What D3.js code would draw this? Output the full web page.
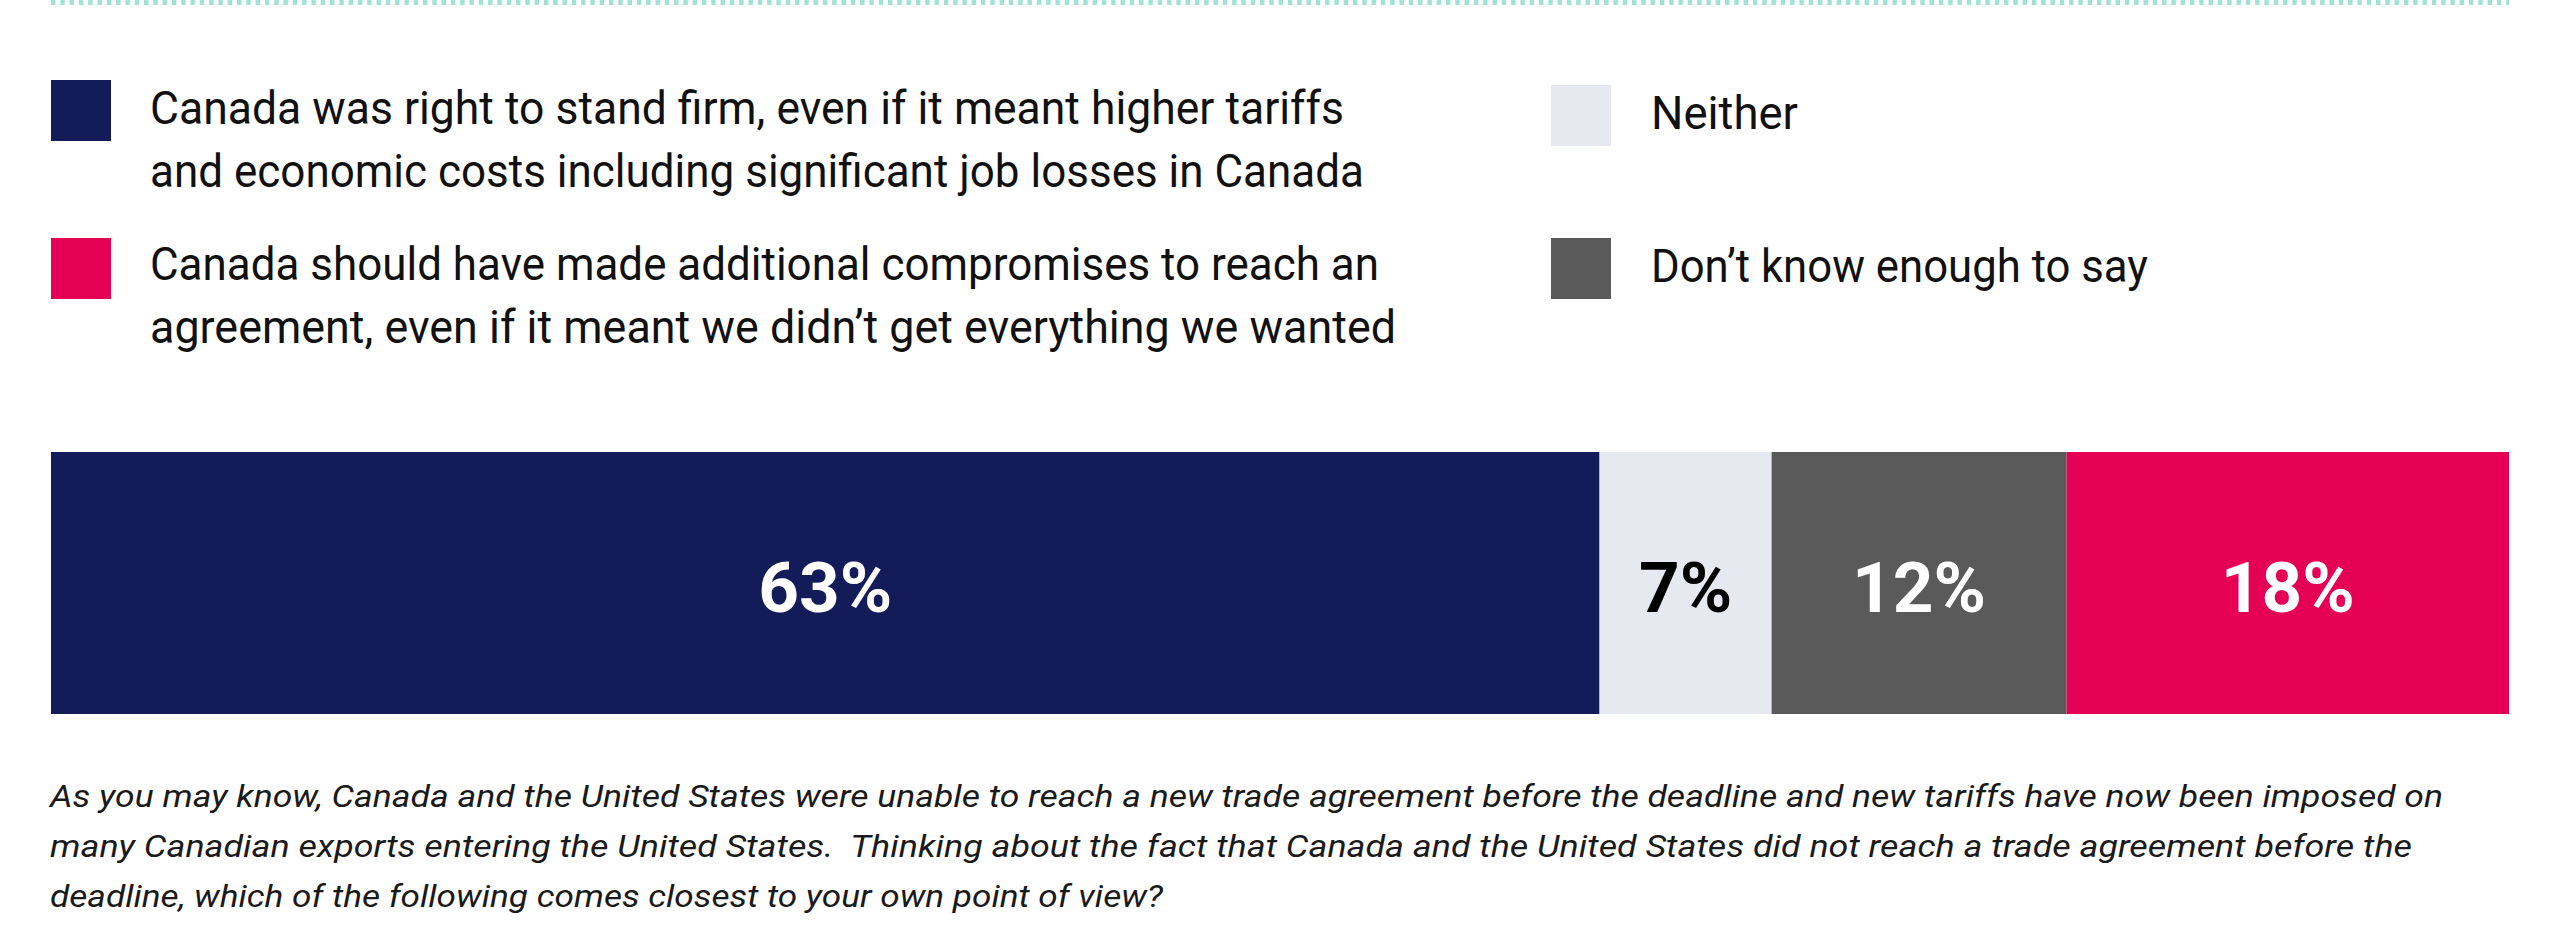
<!DOCTYPE html>
<html>
<head>
<meta charset="utf-8">
<script src="https://cdn.jsdelivr.net/npm/d3@7"></script>
<style>
  html, body { margin: 0; padding: 0; background: #fff; }
  svg { display: block; }
  text { white-space: pre; }
</style>
</head>
<body>
<svg id="chart"></svg>
<script>
// ---- data ----
const categories = ["firm", "neither", "dontknow", "compromise"];
const values = [63, 7, 12, 18];
const valueLabels = ["63%", "7%", "12%", "18%"];
const colors = ["#131b58", "#e6e9ef", "#5a5a5a", "#e50056"];
const labelColors = ["#ffffff", "#000000", "#ffffff", "#ffffff"];

const legendLines = [
    ["Canada was right to stand firm, even if it meant higher tariffs",
     "and economic costs including significant job losses in Canada"],
    ["Neither"],
    ["Don\u2019t know enough to say"],
    ["Canada should have made additional compromises to reach an",
     "agreement, even if it meant we didn\u2019t get everything we wanted"]
];

const questionLines = [
    "As you may know, Canada and the United States were unable to reach a new trade agreement before the deadline and new tariffs have now been imposed on",
    "many Canadian exports entering the United States.  Thinking about the fact that Canada and the United States did not reach a trade agreement before the",
    "deadline, which of the following comes closest to your own point of view?"
];

// ---- layout ----
const W = 2560, H = 939;
const left = 51, right = 2509;
const font = "Roboto, 'Open Sans', sans-serif";

const svg = d3.select("svg#chart")
    .attr("width", W)
    .attr("height", H)
    .attr("viewBox", `0 0 ${W} ${H}`);

// dotted teal rule at the very top
svg.append("line")
    .attr("x1", left).attr("x2", right)
    .attr("y1", 0).attr("y2", 0)
    .attr("stroke", "#9fe3d8")
    .attr("stroke-width", 10)
    .attr("stroke-dasharray", "4.4 4.9");

// legend: squares + wrapped labels (positions)
const legendPos = {
    firm:       { sx: 51,   sy: 80,  tx: 150,  base: [124, 187], w: [1194, 1214] },
    compromise: { sx: 51,   sy: 238, tx: 150,  base: [280, 343], w: [1229, 1246] },
    neither:    { sx: 1551, sy: 85,  tx: 1651, base: [129],      w: [147] },
    dontknow:   { sx: 1551, sy: 238, tx: 1651, base: [282],      w: [497] }
};

const legend = svg.append("g").attr("class", "legend")
    .selectAll("g")
    .data(categories.map((c, i) => ({ key: c, color: colors[i], lines: legendLines[i] })))
    .join("g");

legend.append("rect")
    .attr("x", d => legendPos[d.key].sx)
    .attr("y", d => legendPos[d.key].sy)
    .attr("width", 60)
    .attr("height", 61)
    .attr("fill", d => d.color);

legend.each(function (d) {
    const p = legendPos[d.key];
    d3.select(this).selectAll("text")
        .data(d.lines)
        .join("text")
        .attr("x", p.tx)
        .attr("y", (l, j) => p.base[j])
        .attr("font-family", font)
        .attr("font-size", 46)
        .attr("fill", "#111111")
        .attr("textLength", (l, j) => p.w[j])
        .attr("lengthAdjust", "spacingAndGlyphs")
        .text(l => l);
});

// ---- stacked bar ----
const x = d3.scaleLinear().domain([0, d3.sum(values)]).range([left, right]);
const y = d3.scaleBand().domain(["all"]).range([452, 714]).padding(0);

const row = { group: "all" };
categories.forEach((c, i) => row[c] = values[i]);
const series = d3.stack().keys(categories)([row]);

const seg = svg.append("g").attr("class", "bar")
    .selectAll("g")
    .data(series)
    .join("g");

seg.append("rect")
    .attr("x", s => x(s[0][0]))
    .attr("y", y("all"))
    .attr("width", s => x(s[0][1]) - x(s[0][0]))
    .attr("height", y.bandwidth())
    .attr("fill", s => colors[s.index]);

seg.append("text")
    .attr("x", s => (x(s[0][0]) + x(s[0][1])) / 2)
    .attr("y", y("all") + y.bandwidth() / 2 + 29)
    .attr("text-anchor", "middle")
    .attr("font-family", font)
    .attr("font-weight", 700)
    .attr("font-size", 71)
    .attr("fill", s => labelColors[s.index])
    .text(s => valueLabels[s.index]);

// ---- question text ----
const qWidths = [2393, 2362, 1113];
svg.append("g").attr("class", "question")
    .selectAll("text")
    .data(questionLines)
    .join("text")
    .attr("x", 50)
    .attr("y", (d, i) => 807 + i * 50)
    .attr("font-family", font)
    .attr("font-style", "italic")
    .attr("font-size", 31)
    .attr("fill", "#1a1a1a")
    .attr("textLength", (d, i) => qWidths[i])
    .attr("lengthAdjust", "spacingAndGlyphs")
    .text(d => d);
</script>
</body>
</html>
